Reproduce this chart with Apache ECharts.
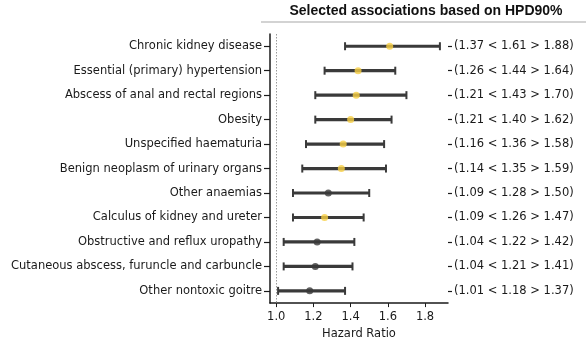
<!DOCTYPE html>
<html>
<head>
<meta charset="utf-8">
<script src="https://cdn.jsdelivr.net/npm/echarts@6/dist/echarts.min.js"></script>
<style>
  html, body { margin: 0; padding: 0; background: #fff; }
  #chart { width: 586px; height: 345px; }
</style>
</head>
<body>
<div id="chart"></div>
<script>
// Diagnoses and their hazard ratio summaries (lower < median > upper)
const categories = [
  "Chronic kidney disease",
  "Essential (primary) hypertension",
  "Abscess of anal and rectal regions",
  "Obesity",
  "Unspecified haematuria",
  "Benign neoplasm of urinary organs",
  "Other anaemias",
  "Calculus of kidney and ureter",
  "Obstructive and reflux uropathy",
  "Cutaneous abscess, furuncle and carbuncle",
  "Other nontoxic goitre"
];
const lower  = [1.37, 1.26, 1.21, 1.21, 1.16, 1.14, 1.09, 1.09, 1.04, 1.04, 1.01];
const median = [1.61, 1.44, 1.43, 1.40, 1.36, 1.35, 1.28, 1.26, 1.22, 1.21, 1.18];
const upper  = [1.88, 1.64, 1.70, 1.62, 1.58, 1.59, 1.50, 1.47, 1.42, 1.41, 1.37];
// Highlighted diagnoses get a yellow median marker
const highlighted = [true, true, true, true, true, true, false, true, false, false, false];
const xTicks = [1.0, 1.2, 1.4, 1.6, 1.8];
const referenceRatio = 1.0;

const BAR = '#3a3a3a';
const GOLD = '#f7cf45';
const FONT = 'DejaVu Sans';
const FS = 11.5;

const intervalLabels = categories.map((_, i) =>
  '(' + lower[i].toFixed(2) + ' < ' + median[i].toFixed(2) + ' > ' + upper[i].toFixed(2) + ')');

const chart = echarts.init(document.getElementById('chart'), null, { renderer: 'canvas' });

const option = {
  animation: false,
  backgroundColor: '#fff',
  grid: { left: 270, right: 138, top: 34, bottom: 37, containLabel: false },
  xAxis: {
    type: 'value',
    min: 0.9665,
    max: 1.9235,
    name: 'Hazard Ratio',
    nameLocation: 'middle',
    nameGap: 21,
    nameTextStyle: { fontFamily: FONT, fontSize: FS, color: '#1a1a1a' },
    splitLine: { show: false },
    axisLine: { show: true, lineStyle: { color: '#1a1a1a', width: 1.5 } },
    axisTick: { show: true, length: 4, customValues: xTicks, lineStyle: { color: '#1a1a1a', width: 1 } },
    axisLabel: {
      customValues: xTicks,
      formatter: v => v.toFixed(1),
      fontFamily: FONT, fontSize: FS, color: '#1a1a1a', margin: 8
    }
  },
  yAxis: [
    {
      type: 'category',
      data: categories,
      inverse: true,
      position: 'left',
      axisLine: { show: true, lineStyle: { color: '#1a1a1a', width: 1.5 } },
      axisTick: { show: true, alignWithLabel: true, length: 6, lineStyle: { color: '#1a1a1a', width: 1.2 } },
      axisLabel: { fontFamily: FONT, fontSize: FS, color: '#1a1a1a', margin: 8 },
      splitLine: { show: false }
    },
    {
      type: 'category',
      data: intervalLabels,
      inverse: true,
      position: 'right',
      axisLine: { show: false },
      axisTick: { show: true, alignWithLabel: true, length: 4, lineStyle: { color: '#1a1a1a', width: 1.2 } },
      axisLabel: { fontFamily: FONT, fontSize: FS, color: '#1a1a1a', margin: 6 },
      splitLine: { show: false }
    }
  ],
  graphic: [
    {
      type: 'line',
      shape: { x1: 261, y1: 22, x2: 586, y2: 22 },
      style: { stroke: '#a8a8a8', lineWidth: 1.2 }
    },
    {
      type: 'text',
      x: 426, y: 11,
      style: {
        text: 'Selected associations based on HPD90%',
        font: 'bold 14px "Liberation Sans", Arial, sans-serif',
        fill: '#111',
        align: 'center',
        verticalAlign: 'middle'
      }
    }
  ],
  series: [
    {
      // interval whiskers with end caps: [lower, row, upper]
      type: 'custom',
      xAxisIndex: 0,
      yAxisIndex: 0,
      data: categories.map((c, i) => [lower[i], i, upper[i]]),
      renderItem: function (params, api) {
        const row = api.value(1);
        const a = api.coord([api.value(0), row]);
        const b = api.coord([api.value(2), row]);
        const capH = 4;
        return {
          type: 'group',
          children: [
            { type: 'line', shape: { x1: a[0], y1: a[1], x2: b[0], y2: b[1] }, style: { stroke: BAR, lineWidth: 3.2 } },
            { type: 'line', shape: { x1: a[0], y1: a[1] - capH, x2: a[0], y2: a[1] + capH }, style: { stroke: BAR, lineWidth: 2 } },
            { type: 'line', shape: { x1: b[0], y1: b[1] - capH, x2: b[0], y2: b[1] + capH }, style: { stroke: BAR, lineWidth: 2 } }
          ]
        };
      },
      z: 2
    },
    {
      // median markers
      type: 'scatter',
      xAxisIndex: 0,
      yAxisIndex: 0,
      symbol: 'circle',
      symbolSize: 7,
      data: median.map((m, i) => ({
        value: [m, i],
        itemStyle: { color: highlighted[i] ? GOLD : BAR }
      })),
      markLine: {
        silent: true,
        symbol: 'none',
        label: { show: false },
        lineStyle: { color: '#9a9a9a', type: [1.5, 1.5], width: 1 },
        data: [{ xAxis: referenceRatio }]
      },
      z: 3
    }
  ]
};

chart.setOption(option);
</script>
</body>
</html>
